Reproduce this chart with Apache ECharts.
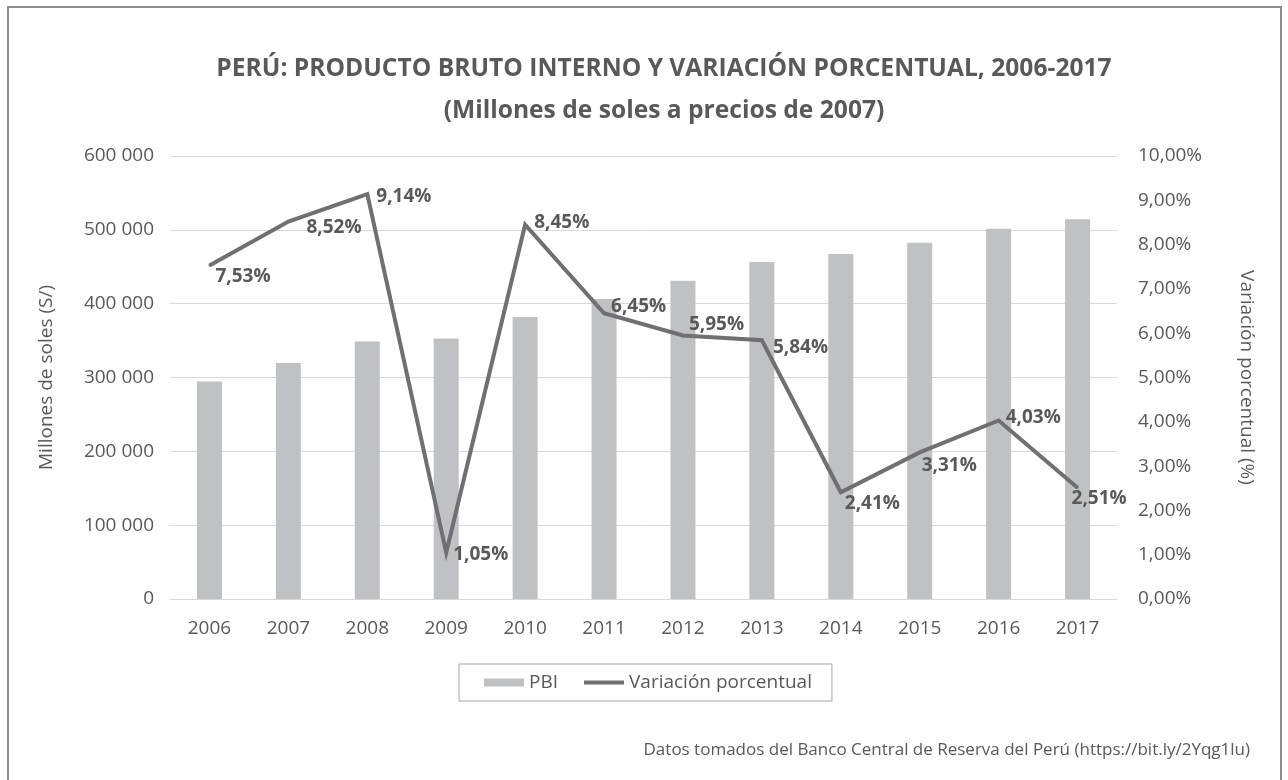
<!DOCTYPE html>
<html>
<head>
<meta charset="utf-8">
<script src="https://cdn.jsdelivr.net/npm/echarts@6/dist/echarts.min.js"></script>
<style>
  html, body { margin: 0; padding: 0; background: #fff; }
  #chart { width: 1288px; height: 780px; }
</style>
</head>
<body>
<div id="chart"></div>
<script>
// Data (BCRP, millones de soles de 2007)
const years = ['2006', '2007', '2008', '2009', '2010', '2011', '2012', '2013', '2014', '2015', '2016', '2017'];
const pbi = [294598, 319693, 348870, 352693, 382081, 406256, 431199, 456435, 467308, 482506, 501581, 514215];
const variacion = [7.53, 8.52, 9.14, 1.05, 8.45, 6.45, 5.95, 5.84, 2.41, 3.31, 4.03, 2.51];

const titleLines = [
  'PERÚ: PRODUCTO BRUTO INTERNO Y VARIACIÓN PORCENTUAL, 2006-2017',
  '(Millones de soles a precios de 2007)',
];

// Label nudges (px) so each percentage sits where it is in the reference
const labelNudge = [
  [0, 11], [12, 6], [3, 2], [1, 2], [3, -2], [1, -7],
  [0, -11], [5, 7], [-2, 11], [-4, 13], [1, -3], [-12, 11],
];

const FONT = '"Open Sans", sans-serif';
const TEXT = '#595959';
const LINE = '#707073';

const fmtMiles = (v) => String(v).replace(/\B(?=(\d{3})+(?!\d))/g, ' ');
const fmtPct = (v) => v.toFixed(2).replace('.', ',') + '%';

const chart = echarts.init(document.getElementById('chart'));

// title is drawn as graphic text: in the reference it sits a bit right of centre
const titleText = titleLines.map((t, i) => ({
  type: 'text',
  x: 664,
  y: 69 + i * 42,
  style: {
    text: t,
    font: 'bold 24.6px "Open Sans", sans-serif',
    fill: TEXT,
    align: 'center',
    verticalAlign: 'middle',
  },
}));

chart.setOption({
  backgroundColor: '#fff',
  textStyle: { fontFamily: FONT },
  animation: false,
  graphic: [
    {
      type: 'rect',
      shape: { x: 8, y: 7, width: 1273, height: 800 },
      style: { fill: 'none', stroke: '#8c8c8c', lineWidth: 2 },
      silent: true,
    },
    ...titleText,
    {
      type: 'text',
      right: 38,
      top: 742,
      style: {
        text: 'Datos tomados del Banco Central de Reserva del Perú (https://bit.ly/2Yqg1lu)',
        font: '17px "Open Sans", sans-serif',
        fill: TEXT,
      },
    },
  ],
  legend: {
    left: 459,
    top: 664,
    padding: [9, 20, 9, 25],
    itemGap: 26,
    itemWidth: 40,
    itemHeight: 8,
    borderColor: '#a6a6a6',
    borderWidth: 1,
    textStyle: { fontFamily: FONT, fontSize: 19, color: TEXT },
    data: [
      { name: 'PBI', icon: 'rect' },
      // thin bar inside a 40x8 box, to look like a plain line swatch
      { name: 'Variación porcentual', icon: 'path://M0,0 M40,8 M0,2 L40,2 L40,6 L0,6 Z' },
    ],
  },
  grid: {
    left: 170,
    right: 171,
    top: 156,
    bottom: 181,
    containLabel: false,
  },
  xAxis: {
    type: 'category',
    data: years,
    axisLine: { lineStyle: { color: '#d9d9d9', width: 1 } },
    axisTick: { show: false },
    axisLabel: { color: TEXT, fontSize: 19, fontFamily: FONT, margin: 20 },
  },
  yAxis: [
    {
      type: 'value',
      min: 0,
      max: 600000,
      interval: 100000,
      name: 'Millones de soles (S/)',
      nameLocation: 'middle',
      nameGap: 114,
      nameTextStyle: { color: TEXT, fontSize: 19, fontFamily: FONT },
      axisLine: { show: false },
      axisTick: { show: false },
      axisLabel: { color: TEXT, fontSize: 19, fontFamily: FONT, margin: 16, formatter: fmtMiles },
      splitLine: { lineStyle: { color: '#d9d9d9', width: 1 } },
    },
    {
      type: 'value',
      min: 0,
      max: 10,
      interval: 1,
      position: 'right',
      name: 'Variación porcentual (%)',
      nameLocation: 'middle',
      nameGap: 120,
      nameRotate: -90,
      nameTextStyle: { color: TEXT, fontSize: 19, fontFamily: FONT },
      axisLine: { show: false },
      axisTick: { show: false },
      axisLabel: { color: TEXT, fontSize: 19, fontFamily: FONT, margin: 21, formatter: fmtPct },
      splitLine: { show: false },
    },
  ],
  series: [
    {
      name: 'PBI',
      type: 'bar',
      data: pbi,
      barWidth: 25,
      itemStyle: { color: '#c0c1c3' },
      yAxisIndex: 0,
    },
    {
      name: 'Variación porcentual',
      type: 'line',
      yAxisIndex: 1,
      symbol: 'circle',
      symbolSize: 2,
      showSymbol: true,
      lineStyle: { color: LINE, width: 4, join: 'miter' },
      itemStyle: { color: LINE },
      label: {
        show: true,
        position: 'right',
        distance: 5,
        fontFamily: FONT,
        fontSize: 19,
        fontWeight: 'bold',
        color: TEXT,
        formatter: (p) => fmtPct(p.value),
      },
      data: variacion.map((v, i) => ({ value: v, label: { offset: labelNudge[i] } })),
    },
  ],
});
</script>
</body>
</html>
